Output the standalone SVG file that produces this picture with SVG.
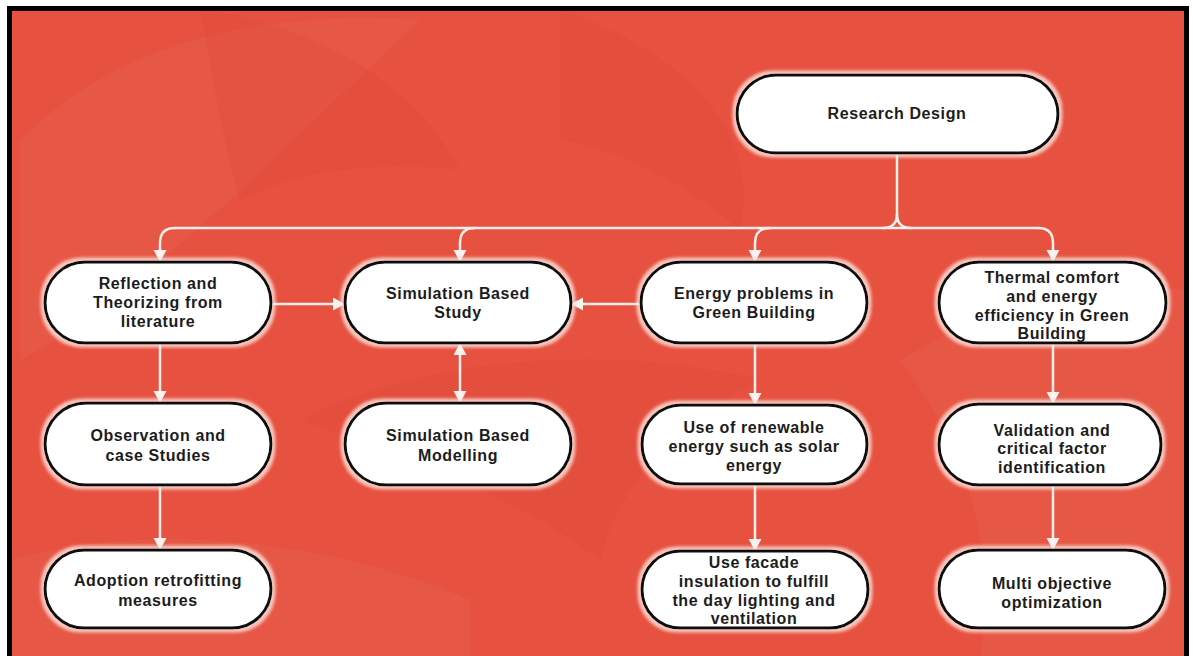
<svg xmlns="http://www.w3.org/2000/svg" width="1193" height="656" viewBox="0 0 1193 656">
  <defs>
    <style>
      .node rect { fill: #ffffff; stroke: #111111; stroke-width: 3; filter: url(#glow); }
      .node text { font-family: "Liberation Sans", Arial, sans-serif; font-weight: bold; font-size: 16px; letter-spacing: 0.6px; fill: #1c1c1c; text-anchor: middle; }
      .link { fill: none; stroke: #f6efe9; stroke-width: 2.5; stroke-linecap: round; }
      .tex-light { fill: #ffffff; opacity: 0.035; }
      .tex-dark { fill: #b8281c; opacity: 0.06; }
    </style>
    <marker id="arrow" markerUnits="userSpaceOnUse" markerWidth="14" markerHeight="14" refX="12" refY="6.5" orient="auto-start-reverse">
      <path d="M0,0 L12,6.5 L0,13 Z" fill="#f8f3ef"/>
    </marker>
    <filter id="glow" x="-10%" y="-20%" width="120%" height="140%">
      <feMorphology in="SourceAlpha" operator="dilate" radius="2.5" result="grown"/>
      <feGaussianBlur in="grown" stdDeviation="1.5" result="soft"/>
      <feFlood flood-color="#fbe3dc" flood-opacity="0.8"/>
      <feComposite in2="soft" operator="in" result="halo"/>
      <feMerge>
        <feMergeNode in="halo"/>
        <feMergeNode in="SourceGraphic"/>
      </feMerge>
    </filter>
  </defs>

  <!-- red backdrop with soft sweeping bands -->
  <rect x="0" y="0" width="1193" height="656" fill="#ffffff"/>
  <rect x="9" y="8" width="1178" height="660" fill="#e7513f"/>
  <g id="texture">
    <path class="tex-light" d="M20,140 C120,40 260,10 420,20 L230,200 C160,260 100,320 20,360 Z"/>
    <path class="tex-dark" d="M200,8 C330,30 420,90 460,170 C380,160 300,170 240,200 C220,130 210,60 200,8 Z"/>
    <path class="tex-dark" d="M560,8 C700,60 760,140 740,230 C680,180 620,150 560,140 Z"/>
    <path class="tex-light" d="M900,360 C1000,300 1120,280 1187,290 L1187,656 L980,656 C1000,540 960,440 900,360 Z"/>
    <path class="tex-dark" d="M300,420 C420,360 600,340 760,380 C680,420 620,480 600,560 C520,500 420,460 300,420 Z"/>
    <path class="tex-light" d="M9,560 C150,520 330,540 470,600 L470,656 L9,656 Z"/>
  </g>

  <!-- connectors -->
  <g id="connectors">
    <path class="link" d="M897,153 V214 Q897,228 883,228"/>
    <path class="link" d="M897,214 Q897,228 911,228"/>
    <path class="link" d="M175,228 H1038"/>
    <path class="link" marker-end="url(#arrow)" d="M175,228 Q160,228 160,243 V262"/>
    <path class="link" marker-end="url(#arrow)" d="M475,228 Q460,228 460,243 V262"/>
    <path class="link" marker-end="url(#arrow)" d="M770,228 Q755,228 755,243 V262"/>
    <path class="link" marker-end="url(#arrow)" d="M1038,228 Q1053,228 1053,243 V262"/>
    <path class="link" marker-end="url(#arrow)" d="M271,304 H345"/>
    <path class="link" marker-end="url(#arrow)" d="M641,304 H571"/>
    <path class="link" marker-start="url(#arrow)" marker-end="url(#arrow)" d="M460,343 V403"/>
    <path class="link" marker-end="url(#arrow)" d="M160,343 V403"/>
    <path class="link" marker-end="url(#arrow)" d="M160,485 V550"/>
    <path class="link" marker-end="url(#arrow)" d="M755,343 V405"/>
    <path class="link" marker-end="url(#arrow)" d="M755,484 V551"/>
    <path class="link" marker-end="url(#arrow)" d="M1053,343 V404"/>
    <path class="link" marker-end="url(#arrow)" d="M1053,485 V550"/>
  </g>

  <!-- nodes -->
  <g id="research-design" class="node">
    <rect x="737" y="75" width="321" height="78" rx="39"/>
    <text x="897" y="119">Research Design</text>
  </g>

  <g id="reflection" class="node">
    <rect x="45" y="262" width="226" height="81" rx="40"/>
    <text x="158" y="289">Reflection and</text>
    <text x="158" y="308">Theorizing from</text>
    <text x="158" y="327">literature</text>
  </g>

  <g id="simulation-study" class="node">
    <rect x="345" y="262" width="226" height="81" rx="40"/>
    <text x="458" y="299">Simulation Based</text>
    <text x="458" y="318">Study</text>
  </g>

  <g id="energy-problems" class="node">
    <rect x="641" y="262" width="226" height="81" rx="40"/>
    <text x="754" y="299">Energy problems in</text>
    <text x="754" y="318">Green Building</text>
  </g>

  <g id="thermal-comfort" class="node">
    <rect x="939" y="262" width="227" height="81" rx="40"/>
    <text x="1052" y="283">Thermal comfort</text>
    <text x="1052" y="302">and energy</text>
    <text x="1052" y="321">efficiency in Green</text>
    <text x="1052" y="339">Building</text>
  </g>

  <g id="observation" class="node">
    <rect x="45" y="403" width="226" height="82" rx="41"/>
    <text x="158" y="441">Observation and</text>
    <text x="158" y="461">case Studies</text>
  </g>

  <g id="simulation-modelling" class="node">
    <rect x="345" y="403" width="226" height="82" rx="41"/>
    <text x="458" y="441">Simulation Based</text>
    <text x="458" y="461">Modelling</text>
  </g>

  <g id="renewable-energy" class="node">
    <rect x="642" y="405" width="225" height="79" rx="39"/>
    <text x="754" y="433">Use of renewable</text>
    <text x="754" y="452">energy such as solar</text>
    <text x="754" y="471">energy</text>
  </g>

  <g id="validation" class="node">
    <rect x="939" y="404" width="222" height="81" rx="40"/>
    <text x="1052" y="436">Validation and</text>
    <text x="1052" y="454">critical factor</text>
    <text x="1052" y="473">identification</text>
  </g>

  <g id="adoption" class="node">
    <rect x="45" y="550" width="226" height="78" rx="39"/>
    <text x="158" y="586">Adoption retrofitting</text>
    <text x="158" y="606">measures</text>
  </g>

  <g id="facade-insulation" class="node">
    <rect x="642" y="551" width="226" height="77" rx="38"/>
    <text x="754" y="568">Use facade</text>
    <text x="754" y="587">insulation to fulfill</text>
    <text x="754" y="606">the day lighting and</text>
    <text x="754" y="624">ventilation</text>
  </g>

  <g id="multi-objective" class="node">
    <rect x="939" y="550" width="226" height="78" rx="39"/>
    <text x="1052" y="589">Multi objective</text>
    <text x="1052" y="608">optimization</text>
  </g>

  <!-- outer frame -->
  <rect x="9.5" y="8.5" width="1177" height="660" fill="none" stroke="#000000" stroke-width="5"/>
</svg>
